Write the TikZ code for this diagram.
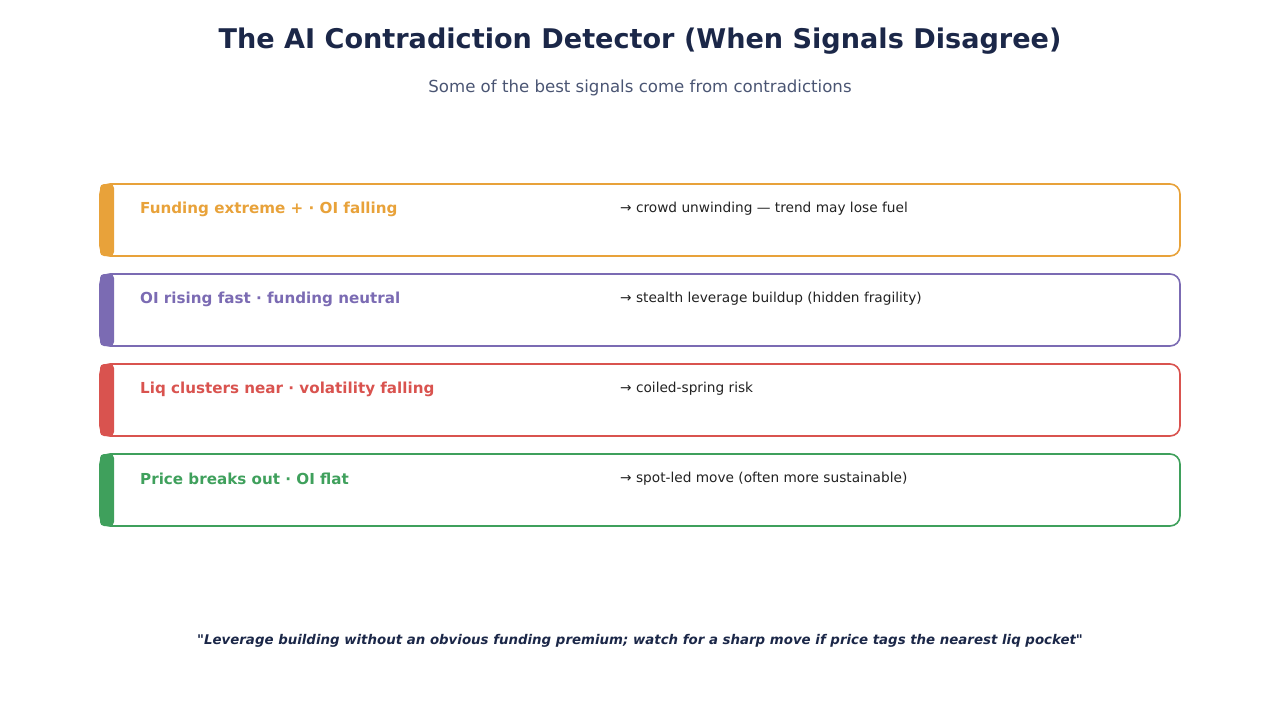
\documentclass[tikz,border=0pt]{standalone}
\usepackage{fontspec}
\setmainfont{DejaVu Sans}
\definecolor{titlec}{HTML}{1B2748}
\definecolor{subc}{HTML}{4A5573}
\definecolor{bodyc}{HTML}{222222}
\definecolor{c1}{HTML}{E8A23A}
\definecolor{c2}{HTML}{7B6BB3}
\definecolor{c3}{HTML}{D9534F}
\definecolor{c4}{HTML}{3FA05C}
\tikzset{
  rowbox/.style={draw=#1, line width=1.6pt, rounded corners=10pt},
  accent/.style={fill=#1, draw=none, rounded corners=4pt},
  lab/.style={anchor=west, text=#1, font=\bfseries\fontsize{15.15}{18}\selectfont, inner sep=0pt},
  desc/.style={anchor=west, text=bodyc, font=\fontsize{13.7}{16}\selectfont, inner sep=0pt},
}
\begin{document}
\begin{tikzpicture}[x=1pt,y=-1pt]
\useasboundingbox (0,0) rectangle (1280,720);
\node (title) at (640,41) {\bfseries\fontsize{27.1}{31}\selectfont\color{titlec}The AI Contradiction Detector (When Signals Disagree)};
\node (sub) at (640,88) {\fontsize{16.6}{19}\selectfont\color{subc}Some of the best signals come from contradictions};
\foreach \i/\c/\a/\b in {0/c1/{Funding extreme + · OI falling}/{→ crowd unwinding — trend may lose fuel},
                        1/c2/{OI rising fast · funding neutral}/{→ stealth leverage buildup (hidden fragility)},
                        2/c3/{Liq clusters near · volatility falling}/{→ coiled-spring risk},
                        3/c4/{Price breaks out · OI flat}/{→ spot-led move (often more sustainable)}}{
  \pgfmathsetmacro{\yt}{184+90*\i}
  \pgfmathsetmacro{\yb}{\yt+72}
  \pgfmathsetmacro{\ym}{\yt+25}
  \draw[rowbox=\c] (100,\yt) rectangle (1180,\yb);
  \fill[accent=\c] (100,\yt) rectangle (114,\yb);
  \node[lab=\c] (lab\i) at (140,\ym) {\a};
  \node[desc] (desc\i) at (620,\ym) {\b};
}
\node (foot) at (640,641) {\bfseries\itshape\fontsize{13.35}{16}\selectfont\color{titlec}\textquotedbl Leverage building without an obvious funding premium; watch for a sharp move if price tags the nearest liq pocket\textquotedbl};
\end{tikzpicture}
\end{document}
